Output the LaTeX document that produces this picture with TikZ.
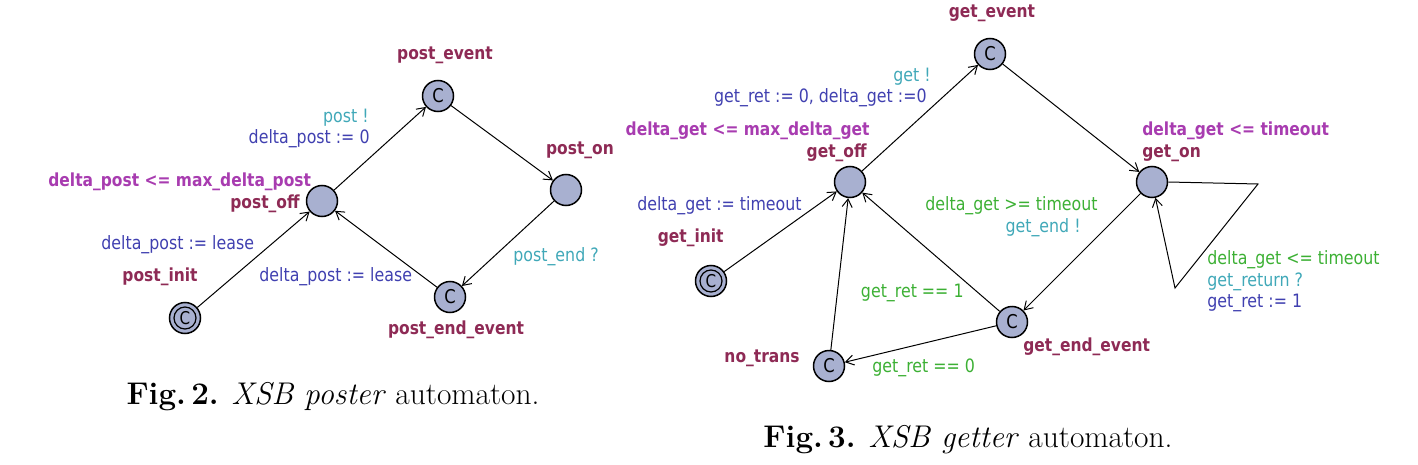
\documentclass[tikz,border=0pt]{standalone}
\usepackage{fontspec}
\newfontfamily\uf[FakeStretch=0.86]{DejaVu Sans}
\usetikzlibrary{arrows.meta}
\definecolor{nodefill}{HTML}{A8B0D0}
\definecolor{cname}{HTML}{8E2A55}
\definecolor{cinv}{HTML}{A83CB0}
\definecolor{csync}{HTML}{40A8B8}
\definecolor{cassign}{HTML}{4040B0}
\definecolor{cguard}{HTML}{3CB034}
\tikzset{
  loc/.style={circle, draw=black, fill=nodefill, line width=0.75pt, minimum size=15.5pt, inner sep=0pt},
  comm/.style={loc, label={[font=\uf\fontsize{9.5}{9}\selectfont]center:C}},
  txt/.style={inner sep=0pt, font=\uf\fontsize{9.2}{10}\selectfont},
  nm/.style={txt, text=cname, font=\uf\bfseries\fontsize{9}{10}\selectfont},
  inv/.style={txt, text=cinv, font=\uf\bfseries\fontsize{9}{10}\selectfont},
  syn/.style={txt, text=csync},
  asg/.style={txt, text=cassign},
  grd/.style={txt, text=cguard},
  ring/.style={circle, draw=black, line width=0.6pt, minimum size=11pt, inner sep=0pt, font=\uf\fontsize{8.8}{9}\selectfont},
  edge/.style={draw=black, line width=0.5pt, -{Straight Barb[length=4pt,width=5pt]}},
  captxt/.style={inner sep=0pt, font=\fontsize{15.7}{17}\selectfont}
}
\begin{document}
\begin{tikzpicture}[x=0.5pt, y=-0.5pt]
\useasboundingbox (0,0) rectangle (1418,465);
% ---------- Fig. 2 ----------
\node[comm] (pe) at (438,96) {};
\node[loc] (po) at (322,201) {};
\node[loc] (pon) at (566,190) {};
\node[comm] (pee) at (450,297) {};
\node[loc] (pi) at (185,318) {};
\node[ring] (pii) at (pi.center) {C};

\node[nm] (lpe) at (445,55) {post\_event};
\node[nm, anchor=east] (lpo) at (300,204) {post\_off};
\node[inv, anchor=west] (ipo) at (48,182) {delta\_post <= max\_delta\_post};
\node[nm] (lpon) at (580,150) {post\_on};
\node[nm] (lpee) at (456,330) {post\_end\_event};
\node[nm] (lpi) at (160,277) {post\_init};

\draw[edge] (pi) -- (po);
\draw[edge] (po) -- (pe);
\draw[edge] (pe) -- (pon);
\draw[edge] (pon) -- (pee);
\draw[edge] (pee) -- (po);

\node[syn, anchor=east] (e1) at (369,118) {post !};
\node[asg, anchor=east] (e2) at (370,139) {delta\_post := 0};
\node[asg, anchor=west] (e3) at (101,245) {delta\_post := lease};
\node[asg, anchor=west] (e4) at (259,277) {delta\_post := lease};
\node[syn, anchor=west] (e5) at (513,257) {post\_end ?};

\node[captxt] (c2) at (333,397) {\textbf{Fig.\,2.} \textit{XSB poster} automaton.};

% ---------- Fig. 3 ----------
\node[comm] (ge) at (990,54) {};
\node[loc] (gof) at (850,182) {};
\node[loc] (gon) at (1152,182) {};
\node[loc] (gi) at (711,281) {};
\node[ring] (gii) at (gi.center) {C};
\node[comm] (nt) at (829,366) {};
\node[comm] (gee) at (1012,322) {};

\node[nm] (lge) at (992,13) {get\_event};
\node[nm, anchor=east] (lgof) at (867,153) {get\_off};
\node[inv, anchor=east] (igof) at (870,131) {delta\_get <= max\_delta\_get};
\node[inv, anchor=west] (igon) at (1142,131) {delta\_get <= timeout};
\node[nm, anchor=west] (lgon) at (1142,153) {get\_on};
\node[nm, anchor=east] (lgi) at (724,238) {get\_init};
\node[nm, anchor=east] (lnt) at (800,358) {no\_trans};
\node[nm, anchor=west] (lgee) at (1023,347) {get\_end\_event};

\coordinate (s1) at (1258,184);
\coordinate (s2) at (1175,288);

\draw[edge] (gi) -- (gof);
\draw[edge] (gof) -- (ge);
\draw[edge] (ge) -- (gon);
\draw[edge] (gon) -- (gee);
\draw[edge] (gee) -- (gof);
\draw[edge] (gee) -- (nt);
\draw[edge] (nt) -- (gof);
\draw[edge] (gon.east) -- (s1) -- (s2) -- (gon);

\node[syn, anchor=east] (f1) at (931,77) {get !};
\node[asg, anchor=east] (f2) at (927,98) {get\_ret := 0, delta\_get :=0};
\node[asg, anchor=east] (f3) at (802,206) {delta\_get := timeout};
\node[grd, anchor=east] (f4) at (1098,206) {delta\_get >= timeout};
\node[syn, anchor=east] (f5) at (1081,228) {get\_end !};
\node[grd, anchor=east] (f6) at (964,293) {get\_ret == 1};
\node[grd, anchor=west] (f7) at (872,368) {get\_ret == 0};
\node[grd, anchor=west] (f8) at (1207,260) {delta\_get <= timeout};
\node[syn, anchor=west] (f9) at (1207,282) {get\_return ?};
\node[asg, anchor=west] (f10) at (1207,303) {get\_ret := 1};

\node[captxt] (c3) at (968,440) {\textbf{Fig.\,3.} \textit{XSB getter} automaton.};
\end{tikzpicture}
\end{document}
